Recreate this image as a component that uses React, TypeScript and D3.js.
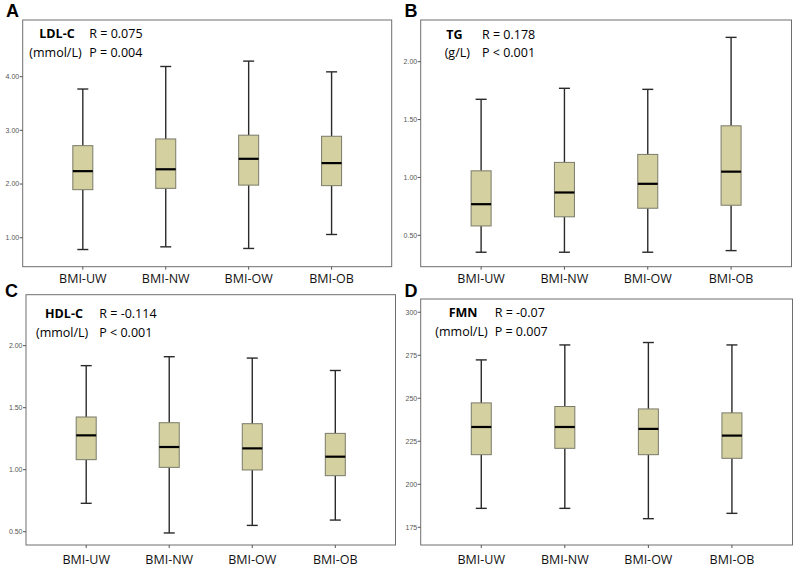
import React from "react";
import * as d3 from "d3";

const categories = ["BMI-UW", "BMI-NW", "BMI-OW", "BMI-OB"];

// [whiskerLow, q1, median, q3, whiskerHigh]
const ldlBoxes = [
  [0.78, 1.895, 2.24, 2.715, 3.77],
  [0.83, 1.92, 2.275, 2.84, 4.19],
  [0.8, 1.98, 2.47, 2.91, 4.29],
  [1.06, 1.97, 2.39, 2.89, 4.09],
];
const tgBoxes = [
  [0.354, 0.581, 0.769, 1.057, 1.675],
  [0.354, 0.66, 0.87, 1.13, 1.77],
  [0.354, 0.734, 0.945, 1.199, 1.761],
  [0.368, 0.76, 1.05, 1.446, 2.21],
];
const hdlBoxes = [
  [0.729, 1.081, 1.277, 1.425, 1.839],
  [0.49, 1.019, 1.183, 1.379, 1.911],
  [0.551, 0.998, 1.172, 1.371, 1.9],
  [0.594, 0.952, 1.105, 1.293, 1.8],
];
const fmnBoxes = [
  [186.0, 217.2, 233.3, 247.3, 272.3],
  [186.0, 220.9, 233.3, 245.2, 281.0],
  [180.0, 217.2, 232.2, 243.8, 282.4],
  [183.1, 215.1, 228.3, 241.5, 281.0],
];

const ldlTicks = [1, 2, 3, 4];
const tgTicks = [0.5, 1.0, 1.5, 2.0];
const hdlTicks = [0.5, 1.0, 1.5, 2.0];
const fmnTicks = [175, 200, 225, 250, 275, 300];

const panels = [
  {
    letter: "A", lx: 6, ly: 17,
    frame: { x0: 22.7, x1: 391.7, y0: 20, y1: 266.7 },
    domain: [0.46, 5.056], ticks: ldlTicks, fmt: ".2f", boxes: ldlBoxes,
    name: "LDL-C", nameX: 39.3, unit: "(mmol/L)", unitX: 29.3,
    r: "R = 0.075", p: "P = 0.004", statX: 89.3, line1: 38.4, line2: 56.8,
    catY: 282.5,
  },
  {
    letter: "B", lx: 404.5, ly: 17,
    frame: { x0: 420.7, x1: 791.5, y0: 20, y1: 266.7 },
    domain: [0.229, 2.36], ticks: tgTicks, fmt: ".2f", boxes: tgBoxes,
    name: "TG", nameX: 446.3, unit: "(g/L)", unitX: 444.7,
    r: "R = 0.178", p: "P < 0.001", statX: 482, line1: 39.3, line2: 57.3,
    catY: 282.5,
  },
  {
    letter: "C", lx: 5, ly: 297,
    frame: { x0: 26, x1: 395.5, y0: 294.7, y1: 545 },
    domain: [0.393, 2.411], ticks: hdlTicks, fmt: ".2f", boxes: hdlBoxes,
    name: "HDL-C", nameX: 45, unit: "(mmol/L)", unitX: 36,
    r: "R = -0.114", p: "P < 0.001", statX: 99.3, line1: 318.2, line2: 336.7,
    catY: 564,
  },
  {
    letter: "D", lx: 404.5, ly: 297,
    frame: { x0: 420.7, x1: 792.5, y0: 299, y1: 545 },
    domain: [164.7, 307.7], ticks: fmnTicks, fmt: "d", boxes: fmnBoxes,
    name: "FMN", nameX: 448.7, unit: "(mmol/L)", unitX: 435.3,
    r: "R = -0.07", p: "P = 0.007", statX: 494.7, line1: 317.3, line2: 335.7,
    catY: 564,
  },
];

const FONT = "'Open Sans', 'Noto Sans', sans-serif";
const BOX_FILL = "#d5d09f";
const BOX_STROKE = "#7a7a6a";
const WHISKER = "#2a2a2a";

function Panel({ p }: { p: any }) {
  const { frame } = p;
  const y = d3.scaleLinear().domain(p.domain).range([frame.y1, frame.y0]);
  const x = d3
    .scalePoint<string>()
    .domain(categories)
    .range([frame.x0, frame.x1])
    .padding(0.725);
  const fmt = d3.format(p.fmt);
  const boxW = 20;
  const capW = 11;
  return (
    <g>
      <text x={p.lx} y={p.ly} fontFamily="'Liberation Sans', Arial, sans-serif" fontWeight="bold" fontSize={18} fill="#000">
        {p.letter}
      </text>
      <rect
        x={frame.x0}
        y={frame.y0}
        width={frame.x1 - frame.x0}
        height={frame.y1 - frame.y0}
        fill="#fff"
        stroke="#6e6e6e"
        strokeWidth={1}
      />
      {p.ticks.map((t: number) => (
        <g key={t}>
          <line x1={frame.x0 - 3} x2={frame.x0} y1={y(t)} y2={y(t)} stroke="#555" strokeWidth={1} />
          <text
            x={frame.x0 - 3.5}
            y={y(t)}
            dy="0.35em"
            textAnchor="end"
            fontFamily="'Liberation Sans', Arial, sans-serif"
            fontSize={7}
            fill="#555"
          >
            {fmt(t)}
          </text>
        </g>
      ))}
      {categories.map((c, i) => {
        const cx = x(c)!;
        const [lo, q1, med, q3, hi] = p.boxes[i];
        return (
          <g key={c}>
            <line x1={cx} x2={cx} y1={frame.y1} y2={frame.y1 + 3} stroke="#555" strokeWidth={1} />
            <text x={cx} y={p.catY} textAnchor="middle" fontFamily={FONT} fontSize={12.5} fill="#111">
              {c}
            </text>
            <line x1={cx} x2={cx} y1={y(hi)} y2={y(q3)} stroke={WHISKER} strokeWidth={1.4} />
            <line x1={cx} x2={cx} y1={y(q1)} y2={y(lo)} stroke={WHISKER} strokeWidth={1.4} />
            <line x1={cx - capW / 2} x2={cx + capW / 2} y1={y(hi)} y2={y(hi)} stroke={WHISKER} strokeWidth={1.4} />
            <line x1={cx - capW / 2} x2={cx + capW / 2} y1={y(lo)} y2={y(lo)} stroke={WHISKER} strokeWidth={1.4} />
            <rect
              x={cx - boxW / 2}
              y={y(q3)}
              width={boxW}
              height={y(q1) - y(q3)}
              fill={BOX_FILL}
              stroke={BOX_STROKE}
              strokeWidth={1}
            />
            <line x1={cx - boxW / 2} x2={cx + boxW / 2} y1={y(med)} y2={y(med)} stroke="#000" strokeWidth={2.2} />
          </g>
        );
      })}
      <text x={p.nameX} y={p.line1} fontFamily={FONT} fontWeight="bold" fontSize={12.5} fill="#000">
        {p.name}
      </text>
      <text x={p.unitX} y={p.line2} fontFamily={FONT} fontSize={12.5} fill="#000">
        {p.unit}
      </text>
      <text x={p.statX} y={p.line1} fontFamily={FONT} fontSize={12.5} fill="#000">
        {p.r}
      </text>
      <text x={p.statX} y={p.line2} fontFamily={FONT} fontSize={12.5} fill="#000">
        {p.p}
      </text>
    </g>
  );
}

export default function App() {
  return (
    <svg
      width={798}
      height={568}
      style={{ position: "absolute", left: 0, top: 0, background: "#fff" }}
    >
      <rect width={798} height={568} fill="#fff" />
      {panels.map((p) => (
        <Panel key={p.letter} p={p} />
      ))}
    </svg>
  );
}
